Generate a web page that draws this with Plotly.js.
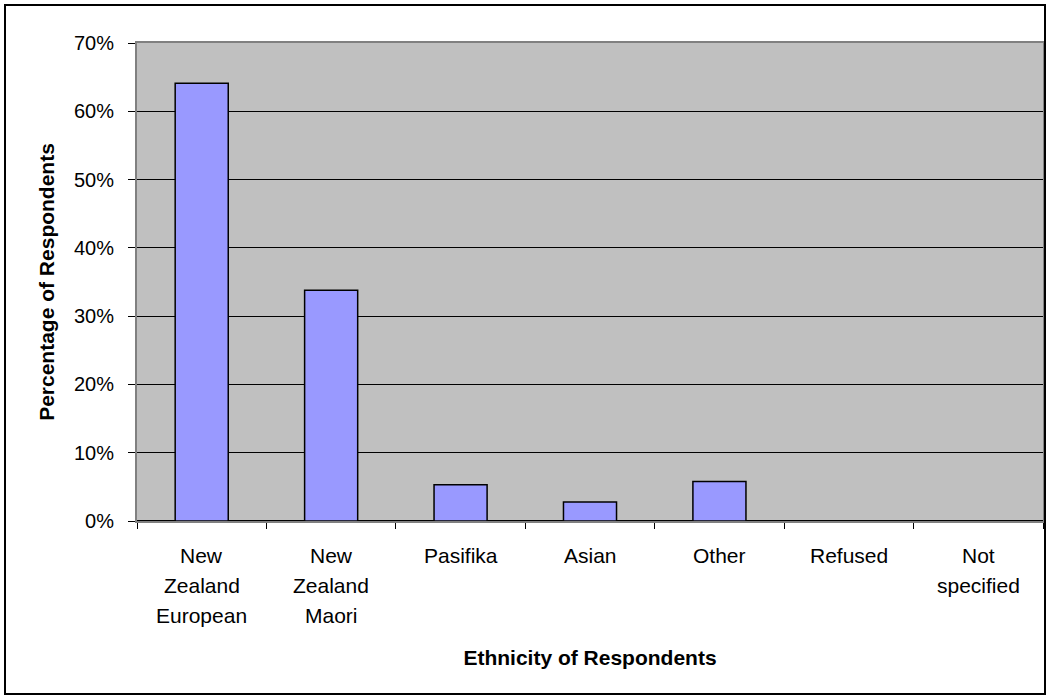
<!DOCTYPE html>
<html>
<head>
<meta charset="utf-8">
<script src="https://cdn.plot.ly/plotly-3.0.1.min.js"></script>
<style>
  html, body { margin: 0; padding: 0; background: #ffffff; }
  #chart { width: 1050px; height: 700px; }
</style>
</head>
<body>
<div id="chart"></div>
<script>
// Ethnicity of survey respondents, share of all respondents (%)
const categories = ['New Zealand European', 'New Zealand Maori', 'Pasifika', 'Asian', 'Other', 'Refused', 'Not specified'];
const categoryLines = [
  ['New', 'Zealand', 'European'],
  ['New', 'Zealand', 'Maori'],
  ['Pasifika'],
  ['Asian'],
  ['Other'],
  ['Refused'],
  ['Not', 'specified']
];
const percentages = [64.1, 33.8, 5.3, 2.8, 5.8, 0, 0];
const yTickValues = [0, 10, 20, 30, 40, 50, 60, 70];
const yTickLabels = ['0%', '10%', '20%', '30%', '40%', '50%', '60%', '70%'];

const W = 1050, H = 700;
const margin = { l: 137, r: 7, t: 43, b: 179 };
const plotW = W - margin.l - margin.r;
const plotH = H - margin.t - margin.b;
const FONT = 'Liberation Sans, Arial, sans-serif';

// category labels: one annotation per line so the line spacing is fixed
const labelAnnotations = [];
categoryLines.forEach((lines, i) => {
  lines.forEach((line, j) => {
    labelAnnotations.push({
      x: categories[i], y: 0, xref: 'x', yref: 'paper',
      text: line, showarrow: false,
      xanchor: 'center', yanchor: 'middle',
      yshift: -34 - 30 * j,
      font: { family: FONT, size: 21, color: '#000000' }
    });
  });
});

// outer frame around the whole chart, in plot-area paper units
const px = v => (v - margin.l) / plotW;
const py = v => (H - margin.b - v) / plotH;

const trace = {
  type: 'bar',
  x: categories,
  y: percentages,
  marker: { color: '#9999FF', line: { color: '#000000', width: 1.5 } },
  hoverinfo: 'x+y'
};

const layout = {
  width: W, height: H,
  margin: margin,
  paper_bgcolor: '#ffffff',
  plot_bgcolor: '#C0C0C0',
  showlegend: false,
  bargap: 0.59,
  font: { family: FONT, color: '#000000' },
  xaxis: {
    type: 'category',
    categoryorder: 'array',
    categoryarray: categories,
    showticklabels: false,
    ticks: 'outside', ticklen: 6, tickwidth: 1, tickcolor: '#000000',
    tickson: 'boundaries',
    showgrid: false,
    showline: true, linecolor: '#808080', linewidth: 2, mirror: true,
    title: {
      text: 'Ethnicity of Respondents',
      font: { family: FONT, size: 21, weight: 'bold', color: '#000000' },
      standoff: 128
    },
    fixedrange: true
  },
  yaxis: {
    range: [0, 70],
    tickvals: yTickValues,
    ticktext: yTickLabels,
    ticks: 'outside', ticklen: 7, tickwidth: 1, tickcolor: '#000000',
    ticklabelstandoff: 10,
    tickfont: { family: FONT, size: 20, color: '#000000' },
    showgrid: true, gridcolor: '#000000', gridwidth: 1,
    zeroline: true, zerolinecolor: '#000000', zerolinewidth: 1.5,
    showline: true, linecolor: '#808080', linewidth: 2, mirror: true,
    title: {
      text: 'Percentage of Respondents',
      font: { family: FONT, size: 21, weight: 'bold', color: '#000000' },
      standoff: 14
    },
    fixedrange: true
  },
  annotations: labelAnnotations,
  shapes: [{
    type: 'rect', xref: 'paper', yref: 'paper',
    x0: px(5), x1: px(1045), y0: py(694), y1: py(5),
    line: { color: '#000000', width: 2 },
    fillcolor: 'rgba(0,0,0,0)',
    layer: 'above'
  }]
};

Plotly.newPlot('chart', [trace], layout, { displayModeBar: false, staticPlot: true });
</script>
</body>
</html>
